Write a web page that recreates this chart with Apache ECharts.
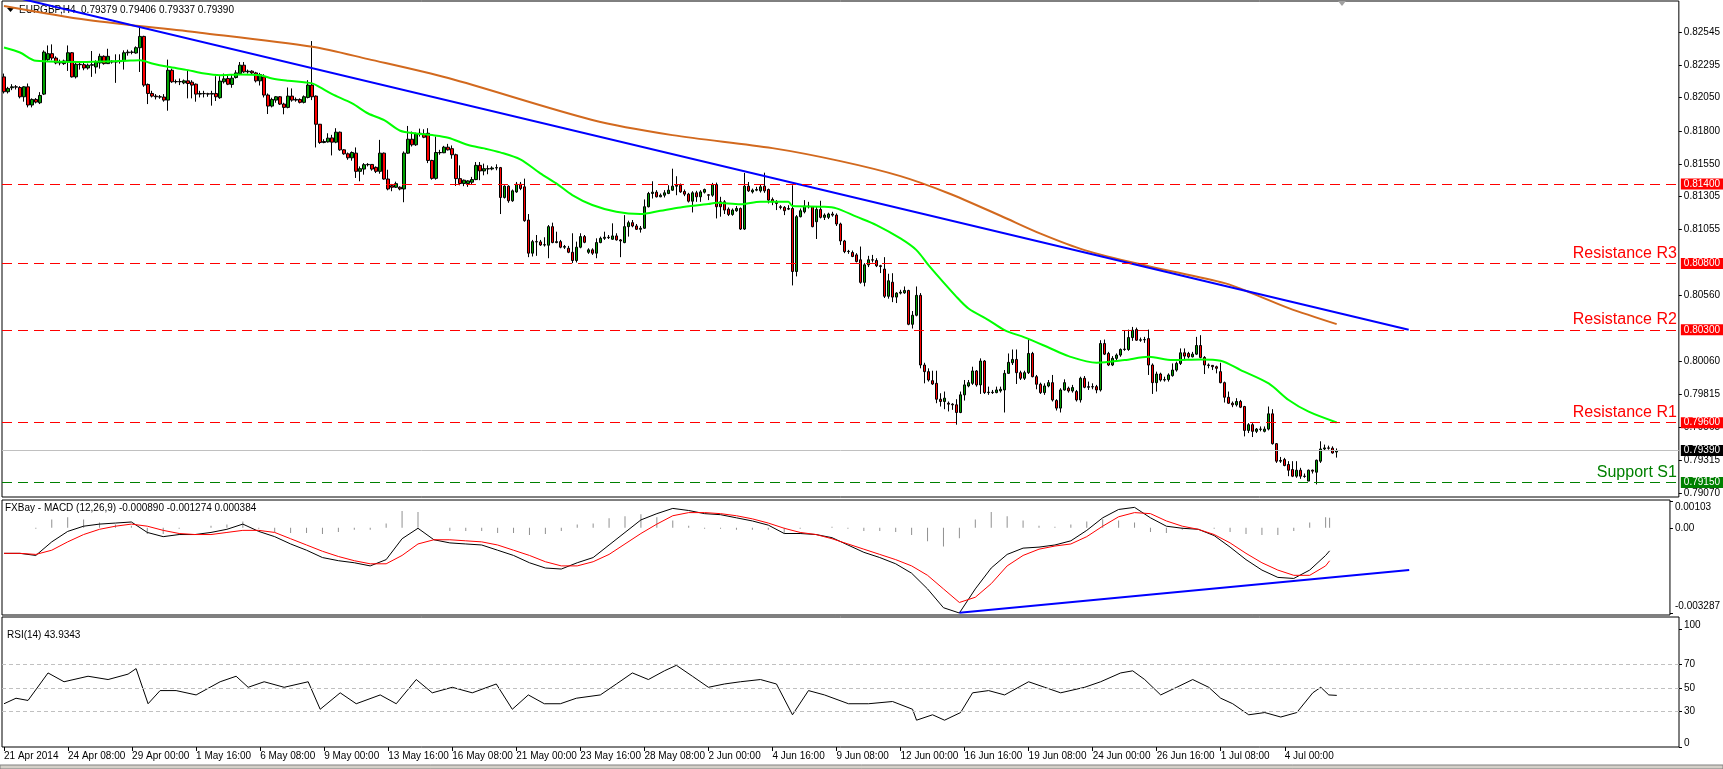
<!DOCTYPE html>
<html><head><meta charset="utf-8">
<script src="https://cdn.jsdelivr.net/npm/echarts@6/dist/echarts.min.js"></script>
<style>html,body{margin:0;padding:0;background:#fff;overflow:hidden}#c{width:1723px;height:769px}</style>
</head><body><div id="c"></div><script>
// ---------- DATA ----------
const symbolName = 'EURGBP,H4';
const tickLabels = ['21 Apr 2014','24 Apr 08:00','29 Apr 00:00','1 May 16:00','6 May 08:00','9 May 00:00','13 May 16:00','16 May 08:00','21 May 00:00','23 May 16:00','28 May 08:00','2 Jun 00:00','4 Jun 16:00','9 Jun 08:00','12 Jun 00:00','16 Jun 16:00','19 Jun 08:00','24 Jun 00:00','26 Jun 16:00','1 Jul 08:00','4 Jul 00:00'];
const barsPerTick = 16;
const slotCount = 419;

const opens = [.82207,.82095,.82125,.82132,.82127,.82057,.82132,.81995,.82037,.82012,.82077,.82337,.82382,.82349,.82312,.82307,.82327,.82389,.82207,.82302,.82299,.82274,.82295,.82282,.82312,.82362,.82307,.82325,.82319,.82322,.82327,.82389,.82394,.82387,.82427,.82512,.82150,.82082,.82062,.82057,.82055,.82032,.82257,.82170,.82172,.82162,.82177,.82167,.82152,.82077,.82082,.82080,.82077,.82082,.82050,.82170,.82195,.82150,.82202,.82232,.82295,.82245,.82250,.82237,.82177,.82207,.82070,.81987,.82032,.82057,.82002,.81977,.82062,.82032,.82037,.82015,.82052,.82145,.82062,.81850,.81712,.81717,.81747,.81715,.81790,.81657,.81627,.81597,.81632,.81495,.81512,.81545,.81547,.81525,.81495,.81632,.81437,.81387,.81375,.81375,.81362,.81632,.81737,.81695,.81777,.81777,.81782,.81577,.81442,.81637,.81635,.81677,
.81666,.81620,.81440,.81403,.81403,.81413,.81433,.81540,.81498,.81515,.81513,.81520,.81523,.81298,.81383,.81273,.81340,.81398,.81378,.81128,.80878,.80965,.80963,.80940,.80938,.81078,.80958,.80965,.80923,.80915,.80885,.80823,.80923,.81003,.80885,.80903,.80878,.80958,.80990,.80998,.80983,.81008,.80978,.80958,.81078,.81108,.81083,.81058,.81066,.81228,.81328,.81338,.81303,.81315,.81328,.81353,.81383,.81390,.81343,.81323,.81270,.81333,.81303,.81338,.81318,.81315,.81395,.81265,.81265,.81210,.81170,.81198,.81215,.81060,.81383,.81340,.81353,.81348,.81383,.81358,.81283,.81265,.81228,.81223,.81210,.81215,.80740,.81153,.81190,.81233,.81228,.81115,.81208,.81148,.81148,.81173,.81165,.81098,.80970,.80890,.80883,.80865,.80828,.80658,.80790,.80828,.80823,.80783,.80758,.80553,
.80659,.80547,.80577,.80579,.80597,.80342,.80410,.80560,.80035,.79985,.79917,.79897,.79777,.79760,.79747,.79740,.79735,.79677,.79810,.79877,.79897,.79990,.79885,.80065,.79827,.79830,.79827,.79840,.79847,.79972,.80052,.80077,.79977,.79935,.79977,.80122,.79947,.79890,.79827,.79877,.79902,.79767,.79710,.79847,.79860,.79840,.79835,.79772,.79935,.79867,.79872,.79872,.79847,.80197,.80122,.80035,.80085,.80110,.80152,.80152,.80242,.80302,.80222,.80225,.80234,.80035,.79902,.79967,.79922,.79925,.79955,.79997,.80047,.80127,.80122,.80097,.80117,.80182,.80092,.80035,.80032,.80022,.79985,.79902,.79792,.79747,.79735,.79760,.79722,.79542,.79585,.79535,.79552,.79535,.79552,.79667,.79442,.79310,.79322,.79285,.79247,.79197,.79242,.79197,.79160,.79242,.79227,.79310,.79402,.79410,.79408,.79379];
const highs = [.82232,.82132,.82152,.82145,.82137,.82137,.82157,.82045,.82047,.82092,.82407,.82444,.82452,.82362,.82337,.82337,.82444,.82394,.82312,.82319,.82312,.82307,.82402,.82332,.82382,.82369,.82419,.82332,.82377,.82377,.82407,.82412,.82407,.82437,.82577,.82517,.82157,.82102,.82077,.82070,.82077,.82337,.82269,.82187,.82195,.82187,.82257,.82182,.82157,.82102,.82102,.82087,.82102,.82212,.82212,.82232,.82220,.82227,.82257,.82319,.82319,.82262,.82257,.82245,.82237,.82227,.82082,.82050,.82062,.82062,.82012,.82127,.82120,.82052,.82045,.82067,.82182,.82477,.82067,.81852,.81737,.81782,.81770,.81820,.81795,.81662,.81637,.81645,.81675,.81532,.81557,.81557,.81550,.81532,.81732,.81637,.81507,.81400,.81417,.81382,.81645,.81837,.81795,.81787,.81817,.81812,.81820,.81582,.81757,.81657,.81687,.81702,
.81690,.81628,.81540,.81433,.81428,.81453,.81565,.81565,.81553,.81540,.81533,.81548,.81528,.81390,.81390,.81358,.81415,.81415,.81440,.81173,.80978,.81015,.80978,.80998,.81090,.81108,.81040,.80978,.80940,.80933,.81028,.80965,.81028,.81015,.80915,.80915,.80990,.81003,.81040,.81015,.81103,.81028,.80985,.81165,.81123,.81128,.81098,.81083,.81283,.81340,.81420,.81353,.81328,.81353,.81390,.81515,.81458,.81403,.81358,.81333,.81345,.81348,.81353,.81365,.81323,.81408,.81410,.81303,.81278,.81223,.81215,.81233,.81223,.81483,.81415,.81365,.81378,.81395,.81485,.81365,.81298,.81278,.81240,.81233,.81240,.81390,.81165,.81215,.81278,.81265,.81233,.81228,.81273,.81178,.81183,.81190,.81178,.81108,.80978,.80903,.80898,.80878,.80928,.80803,.80858,.80865,.80840,.80790,.80848,.80723,
.80727,.80584,.80602,.80627,.80602,.80442,.80627,.80577,.80052,.80010,.79992,.79992,.79822,.79835,.79760,.79747,.79777,.79835,.79922,.79922,.80022,.79997,.80085,.80072,.79872,.79847,.79872,.79872,.79997,.80122,.80152,.80152,.79992,.79992,.80227,.80134,.79960,.79902,.79897,.79922,.79960,.79777,.79860,.79927,.79872,.79885,.79847,.79947,.79952,.79910,.79897,.79885,.80222,.80227,.80134,.80102,.80122,.80160,.80297,.80302,.80322,.80317,.80242,.80247,.80302,.80047,.79985,.79977,.79947,.79972,.80047,.80060,.80160,.80160,.80134,.80134,.80247,.80260,.80102,.80047,.80035,.80030,.80052,.79910,.79835,.79760,.79785,.79772,.79727,.79597,.79597,.79560,.79572,.79572,.79722,.79702,.79447,.79342,.79335,.79310,.79310,.79310,.79260,.79217,.79247,.79247,.79322,.79460,.79435,.79427,.79422,.79406];
const lows = [.82082,.82082,.82107,.82112,.82045,.82020,.81977,.81977,.82007,.82002,.82070,.82319,.82332,.82302,.82294,.82297,.82252,.82202,.82195,.82262,.82257,.82262,.82207,.82232,.82269,.82299,.82304,.82307,.82162,.82307,.82262,.82367,.82377,.82382,.82244,.82132,.82002,.82052,.82037,.82042,.82020,.81952,.82162,.82157,.82145,.82152,.82045,.82045,.82020,.82052,.82052,.82057,.81990,.82025,.82042,.82157,.82145,.82125,.82195,.82220,.82237,.82232,.82227,.82165,.82142,.82052,.81927,.81977,.82012,.81995,.81925,.81970,.82020,.82020,.82007,.82007,.82045,.82032,.81675,.81702,.81707,.81712,.81615,.81707,.81650,.81620,.81582,.81575,.81445,.81420,.81470,.81532,.81500,.81482,.81477,.81432,.81352,.81345,.81370,.81352,.81262,.81627,.81682,.81687,.81757,.81745,.81557,.81432,.81432,.81620,.81632,.81652,
.81590,.81385,.81390,.81383,.81378,.81398,.81428,.81428,.81465,.81473,.81503,.81503,.81173,.81290,.81258,.81265,.81333,.81353,.81115,.80848,.80853,.80858,.80933,.80928,.80840,.80953,.80953,.80915,.80910,.80878,.80803,.80808,.80915,.80953,.80873,.80865,.80840,.80953,.80978,.80985,.80978,.80973,.80848,.80953,.81003,.81073,.81053,.81033,.81061,.81223,.81290,.81298,.81300,.81298,.81323,.81348,.81315,.81333,.81308,.81260,.81185,.81265,.81265,.81328,.81278,.81303,.81140,.81153,.81173,.81158,.81160,.81190,.81053,.81053,.81340,.81328,.81345,.81335,.81333,.81253,.81240,.81203,.81208,.81165,.81203,.80635,.80703,.81148,.81178,.81215,.81073,.80985,.81140,.81128,.81135,.81153,.81083,.80940,.80878,.80873,.80848,.80808,.80648,.80628,.80773,.80808,.80773,.80728,.80540,.80535,
.80509,.80502,.80567,.80572,.80335,.80310,.80402,.80010,.79897,.79910,.79885,.79747,.79722,.79702,.79685,.79697,.79585,.79672,.79767,.79867,.79885,.79872,.79817,.79817,.79810,.79817,.79822,.79827,.79677,.79967,.80035,.79892,.79922,.79922,.79967,.79942,.79852,.79817,.79810,.79867,.79760,.79692,.79677,.79842,.79827,.79827,.79760,.79752,.79860,.79847,.79852,.79822,.79835,.80110,.80027,.80027,.80067,.80097,.80142,.80142,.80217,.80217,.80210,.80202,.79960,.79817,.79835,.79910,.79910,.79910,.79947,.79985,.80035,.80072,.80085,.80092,.80110,.80085,.79967,.80010,.79997,.79972,.79897,.79752,.79742,.79717,.79722,.79710,.79497,.79522,.79492,.79522,.79535,.79527,.79542,.79435,.79297,.79297,.79272,.79197,.79190,.79185,.79177,.79185,.79160,.79217,.79135,.79297,.79392,.79397,.79367,.79337];
const closes = [.82095,.82120,.82132,.82130,.82057,.82132,.81995,.82037,.82017,.82067,.82394,.82382,.82349,.82312,.82319,.82327,.82389,.82207,.82302,.82299,.82274,.82295,.82299,.82317,.82362,.82307,.82362,.82319,.82322,.82327,.82389,.82394,.82392,.82427,.82512,.82145,.82082,.82062,.82057,.82055,.82032,.82257,.82170,.82172,.82170,.82177,.82157,.82145,.82077,.82082,.82080,.82077,.82082,.82057,.82175,.82192,.82152,.82197,.82237,.82295,.82245,.82250,.82237,.82177,.82225,.82070,.81987,.82037,.82057,.82002,.81977,.82062,.82032,.82037,.82015,.82057,.82145,.82057,.81850,.81712,.81720,.81745,.81715,.81790,.81657,.81627,.81597,.81637,.81495,.81515,.81545,.81547,.81512,.81495,.81632,.81437,.81362,.81375,.81402,.81362,.81632,.81737,.81695,.81777,.81782,.81752,.81577,.81442,.81637,.81635,.81677,.81657,
.81620,.81440,.81403,.81428,.81423,.81433,.81540,.81498,.81515,.81513,.81520,.81523,.81298,.81383,.81273,.81348,.81398,.81365,.81123,.80878,.80965,.80963,.80940,.80942,.81078,.80958,.80965,.80923,.80928,.80885,.80823,.80923,.81003,.80960,.80903,.80878,.80958,.80990,.80998,.80995,.81008,.80978,.80970,.81078,.81108,.81083,.81058,.81066,.81228,.81328,.81338,.81303,.81315,.81333,.81353,.81383,.81390,.81340,.81323,.81270,.81333,.81303,.81340,.81358,.81315,.81395,.81228,.81228,.81203,.81170,.81203,.81215,.81060,.81383,.81348,.81353,.81358,.81378,.81348,.81278,.81265,.81253,.81223,.81198,.81215,.80740,.81153,.81198,.81233,.81228,.81078,.81208,.81148,.81165,.81173,.81165,.81098,.80970,.80890,.80892,.80853,.80815,.80658,.80790,.80828,.80826,.80783,.80778,.80553,.80670,
.80547,.80577,.80584,.80597,.80342,.80410,.80560,.80035,.79985,.79922,.79892,.79777,.79760,.79785,.79740,.79735,.79677,.79810,.79885,.79902,.79990,.79885,.80065,.79827,.79830,.79827,.79847,.79852,.79972,.80055,.80077,.79977,.79935,.79977,.80122,.79947,.79890,.79827,.79877,.79902,.79772,.79710,.79847,.79902,.79840,.79865,.79772,.79935,.79867,.79872,.79870,.79847,.80197,.80117,.80035,.80085,.80110,.80152,.80155,.80242,.80297,.80222,.80225,.80227,.80035,.79902,.79967,.79922,.79925,.79960,.79997,.80047,.80127,.80102,.80097,.80117,.80182,.80092,.80035,.80032,.80022,.80010,.79902,.79792,.79747,.79735,.79760,.79717,.79542,.79585,.79535,.79552,.79550,.79552,.79667,.79442,.79310,.79315,.79277,.79242,.79197,.79242,.79197,.79195,.79242,.79235,.79317,.79402,.79410,.79408,.79372,.79390];

// moving averages read at sample bars: [bar, price]
const greenMA = [[0,.82429],[4,.82391],[8,.82328],[19,.82320],[30,.82328],[34,.82333],[37,.82308],[41,.82283],[46,.82258],[49,.82238],[54,.82220],[59,.82225],[64,.82220],[67,.82195],[71,.82178],[77,.82158],[79,.82127],[82,.82077],[87,.82007],[91,.81931],[95,.81881],[99,.81801],[103,.81781],[107,.81768],[111,.81748],[116,.81693],[120,.81668],[124,.81638],[129,.81585],[134,.81480],[138,.81404],[142,.81316],[147,.81241],[153,.81190],[159,.81173],[164,.81198],[169,.81223],[176,.81248],[178,.81258],[184,.81246],[189,.81266],[196,.81266],[197,.81233],[205,.81228],[208,.81216],[213,.81153],[218,.81090],[224,.80989],[228,.80901],[231,.80788],[238,.80549],[241,.80461],[246,.80374],[250,.80298],[255,.80243],[261,.80167],[266,.80102],[273,.80052],[280,.80072],[286,.80097],[292,.80072],[299,.80077],[304,.80067],[309,.79997],[316,.79896],[321,.79771],[326,.79683],[333,.79602]];
const orangeMA = [[0,.82741],[21,.82635],[49,.82540],[77,.82434],[91,.82341],[111,.82198],[147,.81882],[167,.81768],[192,.81670],[209,.81572],[224,.81459],[236,.81330],[249,.81160],[259,.81025],[270,.80901],[286,.80780],[305,.80652],[313,.80562],[321,.80464],[333,.80343]];
const priceTrend = [[4,.82798],[351,.80301]];

const levelPrices = [0.81400, 0.80800, 0.80300, 0.79600, 0.79150];
const levelNames = ['', 'Resistance R3', 'Resistance R2', 'Resistance R1', 'Support S1'];
const levelKinds = ['res','res','res','res','sup'];
const lastPrice = 0.79390;
const priceTicks = [0.82545,0.82295,0.82050,0.81800,0.81550,0.81305,0.81055,0.80560,0.80060,0.79815,0.79565,0.79315,0.79070];

// MACD (12,26,9) main and signal read at the same sample bars
const macdBars = [0,4,8,12,16,20,24,28,32,36,40,44,48,52,56,60,64,68,72,76,80,84,88,92,96,100,104,108,112,116,120,124,128,132,136,140,144,148,152,156,160,164,168,172,176,180,184,188,192,196,200,204,208,212,216,220,224,228,232,236,240,244,248,252,256,260,264,268,272,276,280,284,288,292,296,300,304,308,312,316,320,324,328,332,333];
const macdMain = [-0.000987,-0.000987,-0.001068,-0.000544,-0.000141,0.000060,0.000141,0.000181,0.000222,-0.000181,-0.000343,-0.000262,-0.000262,-0.000181,-0.000060,0.000141,-0.000141,-0.000343,-0.000625,-0.000866,-0.001149,-0.001270,-0.001350,-0.001471,-0.001229,-0.000423,-0.000020,-0.000463,-0.000584,-0.000625,-0.000665,-0.000866,-0.001068,-0.001350,-0.001552,-0.001592,-0.001350,-0.001149,-0.000665,-0.000181,0.000302,0.000544,0.000746,0.000665,0.000544,0.000504,0.000383,0.000262,0.000101,-0.000222,-0.000222,-0.000262,-0.000383,-0.000665,-0.000947,-0.001149,-0.001390,-0.001753,-0.002358,-0.003083,-0.003287,-0.002358,-0.001552,-0.001028,-0.000786,-0.000746,-0.000665,-0.000504,-0.000101,0.000383,0.000705,0.000786,0.000383,0.000060,-0.000020,-0.000060,-0.000302,-0.000746,-0.001229,-0.001632,-0.001914,-0.001955,-0.001632,-0.001068,-0.000890];
const macdSignal = [-0.000987,-0.000987,-0.001028,-0.000866,-0.000544,-0.000262,-0.000060,0.000060,0.000141,0.000060,-0.000101,-0.000222,-0.000262,-0.000262,-0.000181,-0.000101,-0.000101,-0.000181,-0.000423,-0.000665,-0.000907,-0.001108,-0.001270,-0.001390,-0.001390,-0.001068,-0.000625,-0.000463,-0.000463,-0.000504,-0.000544,-0.000665,-0.000866,-0.001068,-0.001310,-0.001471,-0.001471,-0.001310,-0.001028,-0.000625,-0.000222,0.000141,0.000463,0.000584,0.000584,0.000544,0.000463,0.000343,0.000181,-0.000020,-0.000181,-0.000262,-0.000423,-0.000625,-0.000826,-0.001028,-0.001229,-0.001471,-0.001834,-0.002358,-0.002881,-0.002680,-0.002156,-0.001471,-0.001068,-0.000826,-0.000705,-0.000625,-0.000343,0.000060,0.000423,0.000584,0.000544,0.000262,0.000060,-0.000060,-0.000262,-0.000584,-0.000987,-0.001350,-0.001632,-0.001834,-0.001834,-0.001471,-0.001274];
const macdTrend = [[240,-0.00328],[353,-0.00163]];
const macdTickValues = [0.00103, 0, -0.003287];
const macdTickLabels = ['0.00103', '0.00', '-0.003287'];

// RSI(14) read at sample bars
const rsi = [[0,36.8],[3,41.5],[6,39.6],[9,53.6],[11,63],[15,55.5],[21,60.2],[26,57.4],[31,62],[33,66.7],[36,36.8],[39,48],[43,48],[48,44.3],[54,55.5],[58,60.2],[61,50.8],[65,55.5],[70,50.8],[76,55.5],[79,32.1],[84,46.1],[88,36.8],[94,44.3],[98,36.8],[103,57.4],[107,46.1],[112,50.8],[117,46.1],[123,53.6],[127,32.1],[131,44.3],[135,36.8],[139,36.8],[143,41.5],[149,44.3],[153,53.6],[157,63],[161,57.4],[165,64.8],[168,69.5],[172,60.2],[176,50.8],[180,53.6],[184,55.5],[189,57.4],[193,53.6],[197,27.4],[201,48],[205,44.3],[211,36.8],[216,36.8],[222,38.7],[227,32.1],[228,22.8],[232,27.4],[235,22.8],[239,29.3],[242,46.1],[246,48],[250,44.3],[256,55.5],[260,50.8],[264,46.1],[270,50.8],[274,55.5],[279,63],[282,64.8],[285,57.4],[289,44.3],[293,50.8],[297,57.4],[301,50.8],[304,41.5],[307,36.8],[311,27.4],[315,29.3],[319,25.5],[323,29.3],[327,46.1],[329,50.8],[331,44.3],[333,43.9]];
const rsiLevels = [70, 50, 30];
const rsiTickValues = [100, 70, 50, 30, 0];
const macdHeader = 'FXBay - MACD (12,26,9) -0.000890 -0.001274 0.000384';
const rsiHeader = 'RSI(14) 43.9343';

// ---------- CHART ----------
const FONT = 'Liberation Sans';
const cats = Array.from({length: slotCount}, (_, i) =>
  (i % barsPerTick === 0 && i / barsPerTick < tickLabels.length) ? tickLabels[i / barsPerTick] : '');
const showTick = (i, v) => v !== '';
const candles = opens.map((o, i) => [o, closes[i], lows[i], highs[i]]);
const last = opens.length - 1;
const macdLinePts = macdBars.map((b, k) => [b, macdMain[k]]);
const signalLinePts = macdBars.map((b, k) => [b, macdSignal[k]]);
const histPts = macdBars.map((b, k) => [b, macdMain[k] - macdSignal[k]]);

const levelMarks = [];
levelPrices.forEach((p, k) => {
  const col = levelKinds[k] === 'sup' ? '#008000' : '#FF0000';
  levelMarks.push({yAxis: p, lineStyle: {color: col, type: [10, 6], width: 1},
    label: {show: true, position: 'end', formatter: p.toFixed(5), color: '#fff', backgroundColor: col,
      fontSize: 10, fontFamily: FONT, padding: [1, 6, 0, 3], distance: 2}});
  if (levelNames[k]) levelMarks.push({yAxis: p, lineStyle: {color: 'rgba(255,255,255,0)', width: 0},
    label: {show: true, position: 'insideEndTop', formatter: levelNames[k], color: col, opacity: 1,
      fontSize: 16, fontFamily: FONT, distance: 2}});
});
levelMarks.push({yAxis: lastPrice, lineStyle: {color: '#C0C0C0', type: 'solid', width: 1},
  label: {show: true, position: 'end', formatter: lastPrice.toFixed(5), color: '#fff', backgroundColor: '#000',
    fontSize: 10, fontFamily: FONT, padding: [1, 6, 0, 3], distance: 2}});

const gridBase = {left: 2, right: 44, show: true, borderColor: '#000', borderWidth: 1, backgroundColor: '#fff'};
const hiddenX = (g) => ({type: 'category', gridIndex: g, data: cats, boundaryGap: true,
  axisLine: {show: false}, axisTick: {show: false}, axisLabel: {show: false}, splitLine: {show: false}});
const labelStyle = {fontSize: 10, fontFamily: FONT, color: '#000'};
const nearestIdx = (arr, v) => { let k = 0; arr.forEach((t, j) => { if (Math.abs(t - v) < Math.abs(arr[k] - v)) k = j; }); return k; };

const option = {
  animation: false,
  backgroundColor: '#fff',
  grid: [
    Object.assign({top: 1, bottom: 272}, gridBase),
    Object.assign({top: 500, bottom: 154}, gridBase),
    Object.assign({top: 617, bottom: 22}, gridBase)
  ],
  xAxis: [hiddenX(0), hiddenX(1), {
    type: 'category', gridIndex: 2, data: cats, boundaryGap: true,
    axisLine: {show: false},
    axisTick: {show: true, interval: showTick, alignWithLabel: true, length: 4, lineStyle: {color: '#000'}},
    axisLabel: Object.assign({interval: showTick, align: 'left', margin: 4}, labelStyle),
    splitLine: {show: false}
  }],
  yAxis: [
    {type: 'value', gridIndex: 0, position: 'right', min: 0.79040, max: 0.82779,
      axisLine: {show: false}, splitLine: {show: false},
      axisTick: {show: true, length: 3, customValues: priceTicks, lineStyle: {color: '#000'}},
      axisLabel: Object.assign({margin: 5, customValues: priceTicks, formatter: v => v.toFixed(5)}, labelStyle)},
    {type: 'value', gridIndex: 1, position: 'right', min: -0.003364, max: 0.00107,
      axisLine: {show: false}, splitLine: {show: false},
      axisTick: {show: true, length: 3, customValues: macdTickValues, lineStyle: {color: '#000'}},
      axisLabel: Object.assign({margin: 5, customValues: macdTickValues,
        formatter: v => {
          const k = nearestIdx(macdTickValues, v);
          const tag = k === 0 ? 'top' : (k === macdTickValues.length - 1 ? 'bot' : 'mid');
          return '{' + tag + '|' + macdTickLabels[k] + '}';
        },
        rich: {top: {padding: [12, 0, 0, 0], fontSize: 10, fontFamily: FONT}, mid: {fontSize: 10, fontFamily: FONT},
               bot: {padding: [0, 0, 14, 0], fontSize: 10, fontFamily: FONT}}}, labelStyle)},
    {type: 'value', gridIndex: 2, position: 'right', min: 0, max: 110.6,
      axisLine: {show: false}, splitLine: {show: false},
      axisTick: {show: true, length: 3, customValues: rsiTickValues, lineStyle: {color: '#000'}},
      axisLabel: Object.assign({margin: 5, customValues: rsiTickValues,
        formatter: v => (v === 0 || v === 100) ? '{e|' + v + '}' : String(v),
        rich: {e: {padding: [0, 0, 8, 0], fontSize: 10, fontFamily: FONT}}}, labelStyle)}
  ],
  series: [
    {type: 'candlestick', xAxisIndex: 0, yAxisIndex: 0, data: candles, barWidth: 3,
      itemStyle: {color: '#00A000', color0: '#FF0000', borderColor: '#000', borderColor0: '#000', borderWidth: 1}},
    {type: 'line', xAxisIndex: 0, yAxisIndex: 0, data: greenMA, showSymbol: false, smooth: 0.3,
      lineStyle: {color: '#00FF00', width: 2}, z: 3},
    {type: 'line', xAxisIndex: 0, yAxisIndex: 0, data: orangeMA, showSymbol: false, smooth: 0.3,
      lineStyle: {color: '#D2691E', width: 2}, z: 3},
    {type: 'line', xAxisIndex: 0, yAxisIndex: 0, data: priceTrend, showSymbol: false,
      lineStyle: {color: '#0000FF', width: 2}, z: 4,
      markLine: {silent: true, precision: 5, symbol: ['none', 'none'], data: levelMarks, animation: false}},
    {type: 'bar', xAxisIndex: 1, yAxisIndex: 1, data: histPts, barWidth: 1,
      itemStyle: {color: '#909090'}},
    {type: 'line', xAxisIndex: 1, yAxisIndex: 1, data: macdLinePts, showSymbol: false,
      lineStyle: {color: '#000', width: 1}},
    {type: 'line', xAxisIndex: 1, yAxisIndex: 1, data: signalLinePts, showSymbol: false,
      lineStyle: {color: '#FF0000', width: 1}},
    {type: 'line', xAxisIndex: 1, yAxisIndex: 1, data: macdTrend, showSymbol: false,
      lineStyle: {color: '#0000FF', width: 2}},
    {type: 'line', xAxisIndex: 2, yAxisIndex: 2, data: rsi, showSymbol: false,
      lineStyle: {color: '#000', width: 1},
      markLine: {silent: true, precision: 2, symbol: ['none', 'none'], label: {show: false},
        lineStyle: {color: '#C0C0C0', type: [4, 3], width: 1},
        data: rsiLevels.map(v => ({yAxis: v}))}}
  ],
  graphic: [
    {type: 'polygon', shape: {points: [[7, 8], [14, 8], [10.5, 12]]}, style: {fill: '#000'}},
    {type: 'text', left: 19, top: 5, style: {text: symbolName + '  ' + [opens[last], highs[last], lows[last], closes[last]].map(v => v.toFixed(5)).join(' '),
      font: '10px "' + FONT + '"', fill: '#000'}},
    {type: 'text', left: 5, top: 503, style: {text: macdHeader, font: '10px "' + FONT + '"', fill: '#000'}},
    {type: 'text', left: 7, top: 630, style: {text: rsiHeader, font: '10px "' + FONT + '"', fill: '#000'}},
    {type: 'polygon', shape: {points: [[1338, 1], [1346, 1], [1342, 6]]}, style: {fill: '#A0A0A0'}},
    {type: 'rect', shape: {x: 0, y: 765, width: 1723, height: 4}, style: {fill: '#D4D0C8', stroke: '#808080', lineWidth: 1}}
  ]
};
const chart = echarts.init(document.getElementById('c'));
chart.setOption(option);
</script></body></html>
